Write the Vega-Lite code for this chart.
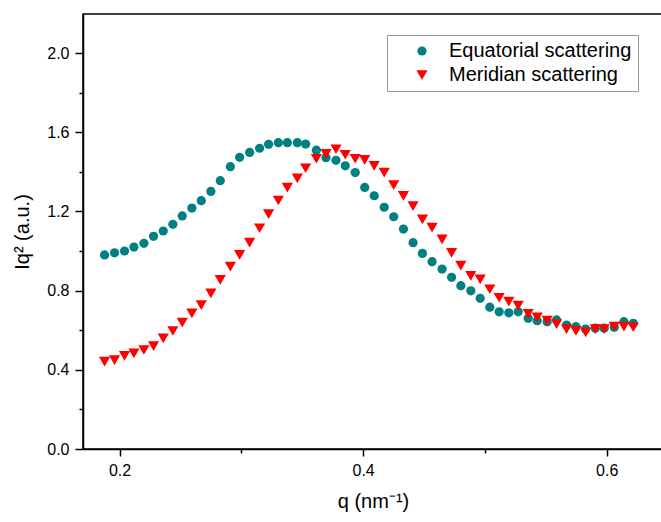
{
  "$schema": "https://vega.github.io/schema/vega-lite/v6.json",
  "width": 580,
  "height": 435,
  "autosize": "none",
  "padding": {"left": 83, "top": 14, "right": 0, "bottom": 73},
  "background": "white",
  "config": {
    "view": {"stroke": "black", "strokeWidth": 1.5},
    "font": "Liberation Sans",
    "axis": {"grid": false, "domainColor": "black", "domainWidth": 1.5, "tickColor": "black", "tickWidth": 1.5, "labelColor": "black", "titleColor": "black", "labelFont": "Liberation Sans", "titleFont": "Liberation Sans", "labelFontSize": 16, "titleFontSize": 20, "titleFontWeight": "normal"},
    "legend": {"title": null, "orient": "none", "legendX": 304, "legendY": 21, "strokeColor": "#999999", "fillColor": "white", "padding": 6, "symbolOffset": 19, "labelOffset": 17, "labelFontSize": 20, "labelFont": "Liberation Sans", "labelColor": "black", "labelLimit": 400, "rowPadding": 4, "symbolStrokeWidth": 0}
  },
  "data": {"values": [
    {"q":0.1877,"v":0.980,"s":"Equatorial scattering"},
    {"q":0.1959,"v":0.991,"s":"Equatorial scattering"},
    {"q":0.2041,"v":1.000,"s":"Equatorial scattering"},
    {"q":0.2118,"v":1.020,"s":"Equatorial scattering"},
    {"q":0.2200,"v":1.039,"s":"Equatorial scattering"},
    {"q":0.2279,"v":1.074,"s":"Equatorial scattering"},
    {"q":0.2359,"v":1.101,"s":"Equatorial scattering"},
    {"q":0.2438,"v":1.135,"s":"Equatorial scattering"},
    {"q":0.2515,"v":1.177,"s":"Equatorial scattering"},
    {"q":0.2594,"v":1.217,"s":"Equatorial scattering"},
    {"q":0.2671,"v":1.254,"s":"Equatorial scattering"},
    {"q":0.2750,"v":1.301,"s":"Equatorial scattering"},
    {"q":0.2827,"v":1.355,"s":"Equatorial scattering"},
    {"q":0.2910,"v":1.426,"s":"Equatorial scattering"},
    {"q":0.2986,"v":1.473,"s":"Equatorial scattering"},
    {"q":0.3068,"v":1.498,"s":"Equatorial scattering"},
    {"q":0.3150,"v":1.519,"s":"Equatorial scattering"},
    {"q":0.3224,"v":1.539,"s":"Equatorial scattering"},
    {"q":0.3304,"v":1.547,"s":"Equatorial scattering"},
    {"q":0.3378,"v":1.547,"s":"Equatorial scattering"},
    {"q":0.3460,"v":1.547,"s":"Equatorial scattering"},
    {"q":0.3528,"v":1.540,"s":"Equatorial scattering"},
    {"q":0.3616,"v":1.509,"s":"Equatorial scattering"},
    {"q":0.3695,"v":1.471,"s":"Equatorial scattering"},
    {"q":0.3777,"v":1.458,"s":"Equatorial scattering"},
    {"q":0.3853,"v":1.430,"s":"Equatorial scattering"},
    {"q":0.3935,"v":1.396,"s":"Equatorial scattering"},
    {"q":0.4013,"v":1.321,"s":"Equatorial scattering"},
    {"q":0.4091,"v":1.279,"s":"Equatorial scattering"},
    {"q":0.4173,"v":1.221,"s":"Equatorial scattering"},
    {"q":0.4251,"v":1.173,"s":"Equatorial scattering"},
    {"q":0.4331,"v":1.111,"s":"Equatorial scattering"},
    {"q":0.4410,"v":1.042,"s":"Equatorial scattering"},
    {"q":0.4487,"v":0.988,"s":"Equatorial scattering"},
    {"q":0.4566,"v":0.946,"s":"Equatorial scattering"},
    {"q":0.4648,"v":0.909,"s":"Equatorial scattering"},
    {"q":0.4726,"v":0.867,"s":"Equatorial scattering"},
    {"q":0.4802,"v":0.825,"s":"Equatorial scattering"},
    {"q":0.4884,"v":0.799,"s":"Equatorial scattering"},
    {"q":0.4961,"v":0.761,"s":"Equatorial scattering"},
    {"q":0.5040,"v":0.716,"s":"Equatorial scattering"},
    {"q":0.5117,"v":0.693,"s":"Equatorial scattering"},
    {"q":0.5196,"v":0.688,"s":"Equatorial scattering"},
    {"q":0.5273,"v":0.693,"s":"Equatorial scattering"},
    {"q":0.5355,"v":0.660,"s":"Equatorial scattering"},
    {"q":0.5429,"v":0.648,"s":"Equatorial scattering"},
    {"q":0.5511,"v":0.643,"s":"Equatorial scattering"},
    {"q":0.5588,"v":0.652,"s":"Equatorial scattering"},
    {"q":0.5670,"v":0.626,"s":"Equatorial scattering"},
    {"q":0.5747,"v":0.618,"s":"Equatorial scattering"},
    {"q":0.5827,"v":0.606,"s":"Equatorial scattering"},
    {"q":0.5906,"v":0.610,"s":"Equatorial scattering"},
    {"q":0.5979,"v":0.610,"s":"Equatorial scattering"},
    {"q":0.6062,"v":0.615,"s":"Equatorial scattering"},
    {"q":0.6141,"v":0.643,"s":"Equatorial scattering"},
    {"q":0.6218,"v":0.635,"s":"Equatorial scattering"},
    {"q":0.1877,"v":0.441,"s":"Meridian scattering"},
    {"q":0.1959,"v":0.449,"s":"Meridian scattering"},
    {"q":0.2041,"v":0.470,"s":"Meridian scattering"},
    {"q":0.2118,"v":0.483,"s":"Meridian scattering"},
    {"q":0.2200,"v":0.500,"s":"Meridian scattering"},
    {"q":0.2279,"v":0.520,"s":"Meridian scattering"},
    {"q":0.2359,"v":0.559,"s":"Meridian scattering"},
    {"q":0.2438,"v":0.596,"s":"Meridian scattering"},
    {"q":0.2515,"v":0.638,"s":"Meridian scattering"},
    {"q":0.2594,"v":0.685,"s":"Meridian scattering"},
    {"q":0.2671,"v":0.727,"s":"Meridian scattering"},
    {"q":0.2750,"v":0.786,"s":"Meridian scattering"},
    {"q":0.2827,"v":0.854,"s":"Meridian scattering"},
    {"q":0.2910,"v":0.921,"s":"Meridian scattering"},
    {"q":0.2986,"v":0.980,"s":"Meridian scattering"},
    {"q":0.3068,"v":1.042,"s":"Meridian scattering"},
    {"q":0.3150,"v":1.115,"s":"Meridian scattering"},
    {"q":0.3224,"v":1.186,"s":"Meridian scattering"},
    {"q":0.3304,"v":1.255,"s":"Meridian scattering"},
    {"q":0.3378,"v":1.320,"s":"Meridian scattering"},
    {"q":0.3460,"v":1.367,"s":"Meridian scattering"},
    {"q":0.3528,"v":1.418,"s":"Meridian scattering"},
    {"q":0.3616,"v":1.466,"s":"Meridian scattering"},
    {"q":0.3695,"v":1.491,"s":"Meridian scattering"},
    {"q":0.3777,"v":1.514,"s":"Meridian scattering"},
    {"q":0.3853,"v":1.486,"s":"Meridian scattering"},
    {"q":0.3935,"v":1.466,"s":"Meridian scattering"},
    {"q":0.4013,"v":1.460,"s":"Meridian scattering"},
    {"q":0.4091,"v":1.430,"s":"Meridian scattering"},
    {"q":0.4173,"v":1.396,"s":"Meridian scattering"},
    {"q":0.4251,"v":1.333,"s":"Meridian scattering"},
    {"q":0.4331,"v":1.278,"s":"Meridian scattering"},
    {"q":0.4410,"v":1.227,"s":"Meridian scattering"},
    {"q":0.4487,"v":1.160,"s":"Meridian scattering"},
    {"q":0.4566,"v":1.118,"s":"Meridian scattering"},
    {"q":0.4648,"v":1.059,"s":"Meridian scattering"},
    {"q":0.4726,"v":0.991,"s":"Meridian scattering"},
    {"q":0.4802,"v":0.926,"s":"Meridian scattering"},
    {"q":0.4884,"v":0.874,"s":"Meridian scattering"},
    {"q":0.4961,"v":0.857,"s":"Meridian scattering"},
    {"q":0.5040,"v":0.807,"s":"Meridian scattering"},
    {"q":0.5117,"v":0.764,"s":"Meridian scattering"},
    {"q":0.5196,"v":0.744,"s":"Meridian scattering"},
    {"q":0.5273,"v":0.724,"s":"Meridian scattering"},
    {"q":0.5355,"v":0.682,"s":"Meridian scattering"},
    {"q":0.5429,"v":0.665,"s":"Meridian scattering"},
    {"q":0.5511,"v":0.648,"s":"Meridian scattering"},
    {"q":0.5588,"v":0.631,"s":"Meridian scattering"},
    {"q":0.5670,"v":0.605,"s":"Meridian scattering"},
    {"q":0.5747,"v":0.597,"s":"Meridian scattering"},
    {"q":0.5827,"v":0.589,"s":"Meridian scattering"},
    {"q":0.5906,"v":0.605,"s":"Meridian scattering"},
    {"q":0.5979,"v":0.606,"s":"Meridian scattering"},
    {"q":0.6062,"v":0.618,"s":"Meridian scattering"},
    {"q":0.6141,"v":0.618,"s":"Meridian scattering"},
    {"q":0.6218,"v":0.615,"s":"Meridian scattering"}
  ]},
  "layer": [
    {
      "mark": {"type": "point", "filled": true, "opacity": 1},
      "encoding": {
        "x": {"field": "q", "type": "quantitative", "scale": {"domain": [0.17, 0.6462], "nice": false, "zero": false},
              "axis": {"orient": "bottom", "values": [0.2, 0.4, 0.6], "format": ".1f", "tickSize": 7, "labelPadding": 6, "title": "q (nm⁻¹)", "titlePadding": 13}},
        "y": {"field": "v", "type": "quantitative", "scale": {"domain": [0, 2.197], "nice": false},
              "axis": {"orient": "left", "values": [0, 0.4, 0.8, 1.2, 1.6, 2.0], "format": ".1f", "tickSize": 8, "labelPadding": 6, "title": "Iq² (a.u.)", "titlePadding": 14}},
        "color": {"field": "s", "type": "nominal",
                  "scale": {"domain": ["Equatorial scattering", "Meridian scattering"], "range": ["#008080", "#ff0000"]}},
        "shape": {"field": "s", "type": "nominal",
                  "scale": {"domain": ["Equatorial scattering", "Meridian scattering"], "range": ["circle", "triangle-down"]}},
        "size": {"field": "s", "type": "nominal",
                 "scale": {"domain": ["Equatorial scattering", "Meridian scattering"], "range": [85, 125]}}
      }
    },
    {
      "mark": {"type": "point", "opacity": 0},
      "encoding": {
        "x": {"field": "q", "type": "quantitative",
              "axis": {"orient": "bottom", "values": [0.3, 0.5], "labels": false, "tickSize": 4, "domain": false, "title": null}},
        "y": {"field": "v", "type": "quantitative",
              "axis": {"orient": "left", "values": [0.2, 0.6, 1.0, 1.4, 1.8], "labels": false, "tickSize": 4, "domain": false, "title": null}}
      }
    }
  ],
  "resolve": {"axis": {"x": "independent", "y": "independent"}}
}
